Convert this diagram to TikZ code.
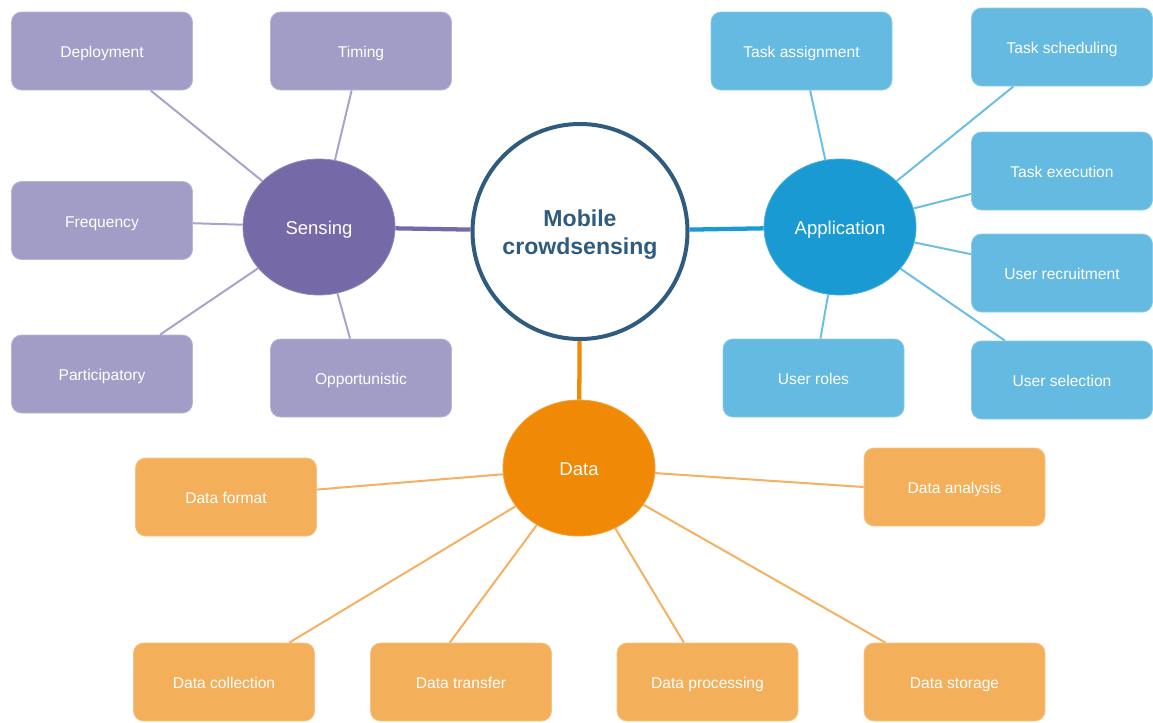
\documentclass[tikz,border=0pt]{standalone}
\usepackage{fontspec}
\setmainfont{Liberation Sans}
\usetikzlibrary{shapes.geometric}

% palette
\definecolor{coreblue}{HTML}{2F5B7F}
\definecolor{senhub}{HTML}{756AA7}
\definecolor{senbox}{HTML}{A29DC6}
\definecolor{senline}{HTML}{A9A3CC}
\definecolor{apphub}{HTML}{1A9AD3}
\definecolor{appbox}{HTML}{64BAE0}
\definecolor{appline}{HTML}{6CBFE4}
\definecolor{datahub}{HTML}{F08905}
\definecolor{databox}{HTML}{F4AF5B}
\definecolor{dataline}{HTML}{F5B161}

\begin{document}
\begin{tikzpicture}[x=0.75pt,y=-0.75pt,
  leaf/.style={rectangle, rounded corners=7.5pt, minimum width=135.75pt,
    minimum height=58.5pt, inner sep=0pt, fill=#1, draw=#1!75!white,
    line width=0.6pt, text=white, text height=1.0em, text depth=0pt,
    font=\fontsize{11.7}{14}\selectfont},
  hub/.style={ellipse, minimum width=114pt, minimum height=102pt,
    inner sep=0pt, fill=#1, draw=#1!80!white, line width=0.6pt,
    text=white, text height=1.05em, text depth=0pt,
    font=\fontsize{13.9}{16}\selectfont},
  core/.style={circle, minimum size=161.25pt, inner sep=0pt, fill=white,
    draw=coreblue, line width=3pt},
  corelabel/.style={text=coreblue, align=center, inner sep=0pt,
    font=\fontsize{17.3}{21}\selectfont\bfseries},
  spoke/.style={draw=#1, line width=1.5pt},
  trunk/.style={draw=#1, line width=3.2pt}]

\useasboundingbox (0,0) rectangle (1153,722);

% centre
\node[core] (mcs) at (580,231.5) {};
\node[corelabel] (mcstext) at (580,234.5) {Mobile\\crowdsensing};

% sensing branch
\node[hub=senhub] (sensing) at (319,227) {Sensing};
\node[leaf=senbox] (dep)    at (102,51)    {Deployment};
\node[leaf=senbox] (timing) at (361,51)    {Timing};
\node[leaf=senbox] (freq)   at (102,220.5) {Frequency};
\node[leaf=senbox] (partic) at (102,374)   {Participatory};
\node[leaf=senbox] (oppor)  at (361,378)   {Opportunistic};

% application branch
\node[hub=apphub] (app) at (840,227) {Application};
\node[leaf=appbox] (tassign) at (801.5,51) {Task assignment};
\node[leaf=appbox] (tsched)  at (1062,47)  {Task scheduling};
\node[leaf=appbox] (texec)   at (1062,171) {Task execution};
\node[leaf=appbox] (urecr)   at (1062,273) {User recruitment};
\node[leaf=appbox] (usel)    at (1062,380) {User selection};
\node[leaf=appbox] (uroles)  at (813.5,378) {User roles};

% data branch
\node[hub=datahub] (data) at (579,468) {Data};
\node[leaf=databox] (dformat) at (226,497)   {Data format};
\node[leaf=databox] (danal)   at (954.5,487) {Data analysis};
\node[leaf=databox] (dcoll)   at (224,682)   {Data collection};
\node[leaf=databox] (dtrans)  at (461,682)   {Data transfer};
\node[leaf=databox] (dproc)   at (707.5,682) {Data processing};
\node[leaf=databox] (dstor)   at (954.5,682) {Data storage};

% trunks
\draw[trunk=senhub]  (mcs) -- (sensing);
\draw[trunk=apphub]  (mcs) -- (app);
\draw[trunk=datahub] (mcs) -- (data);

% sensing spokes
\foreach \leafname in {dep,timing,freq,partic,oppor}
  \draw[spoke=senline] (sensing) -- (\leafname);

% application spokes
\foreach \leafname in {tassign,tsched,texec,urecr,usel,uroles}
  \draw[spoke=appline] (app) -- (\leafname);

% data spokes
\foreach \leafname in {dformat,dcoll,dproc,dstor}
  \draw[spoke=dataline] (data) -- (\leafname);
\draw[spoke=dataline] (data) -- (dtrans.106);
\draw[spoke=dataline] (data) -- (danal.west);
\end{tikzpicture}
\end{document}
